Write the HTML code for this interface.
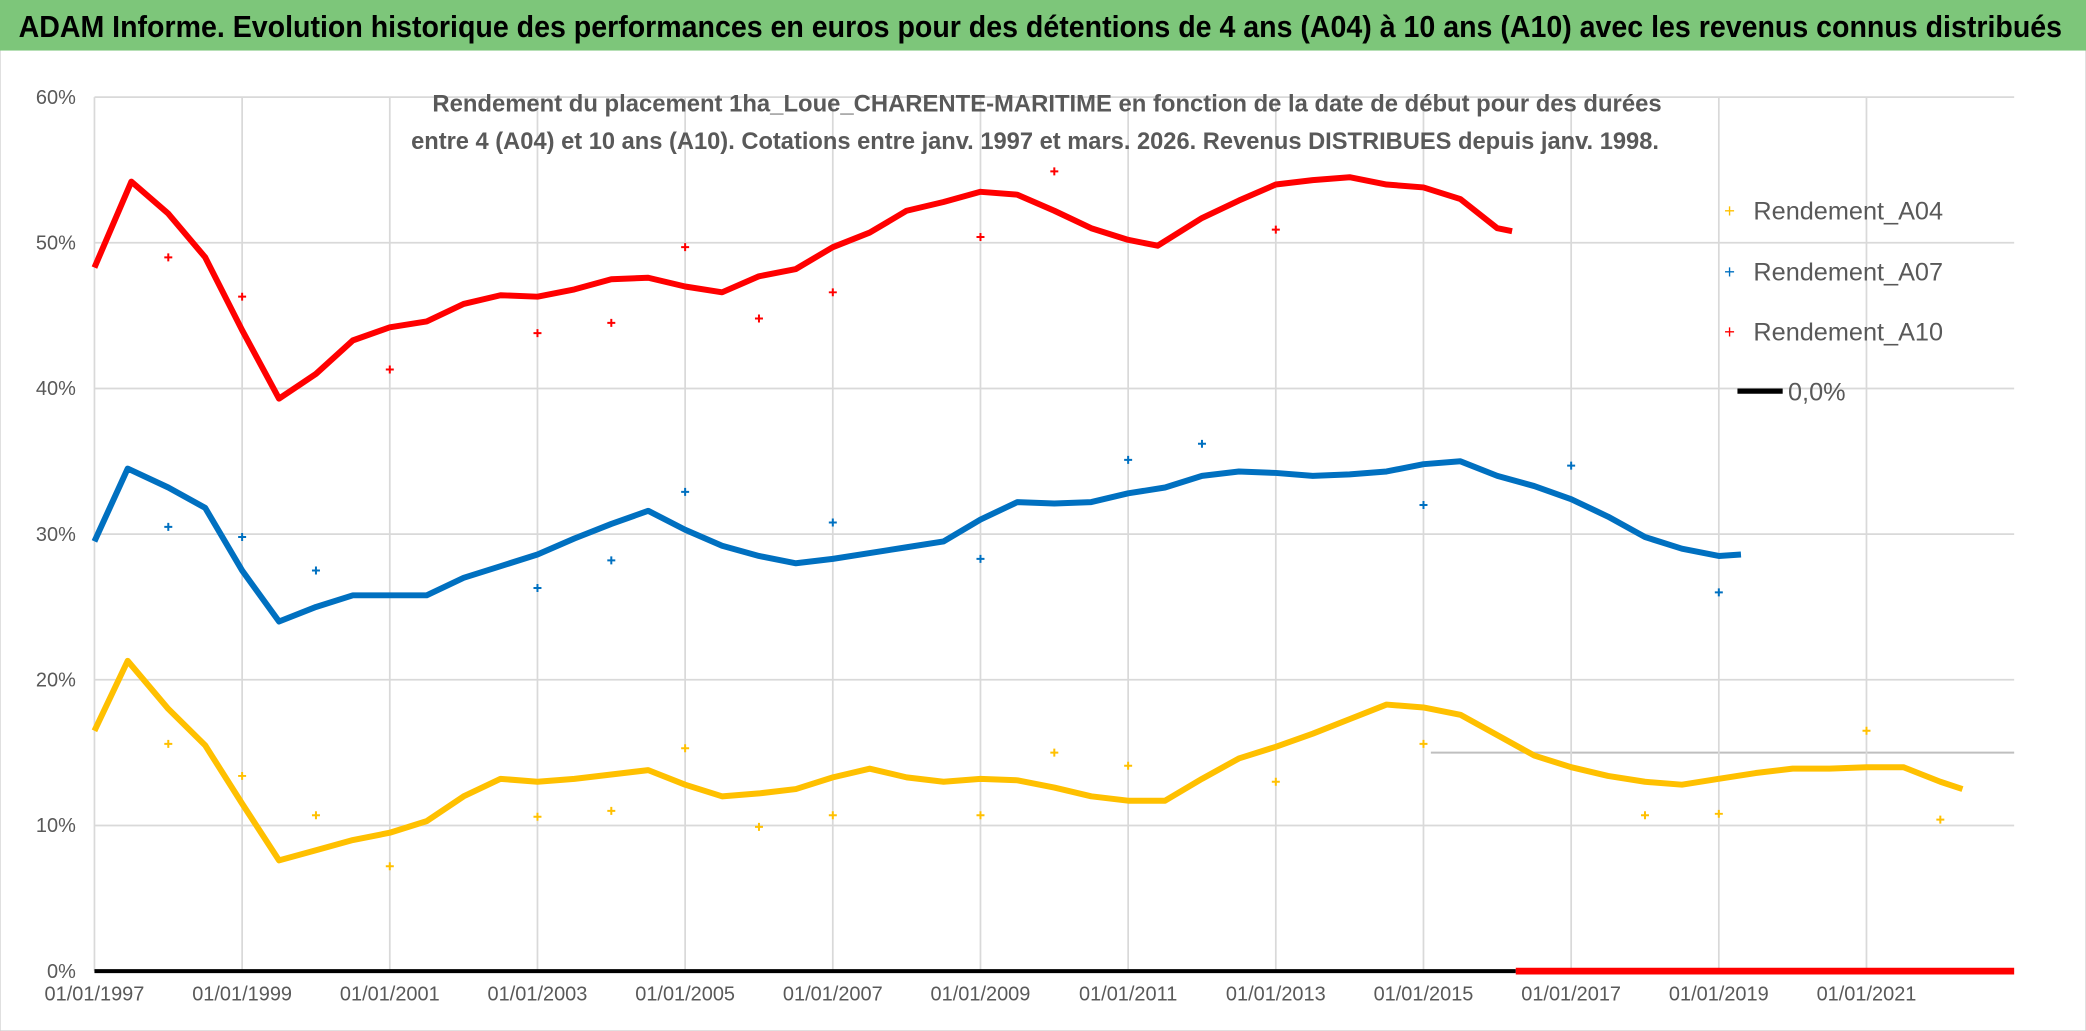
<!DOCTYPE html>
<html><head><meta charset="utf-8"><style>
html,body{margin:0;padding:0;background:#fff;}
svg{display:block;}
text{font-family:"Liberation Sans",sans-serif;}
</style></head><body>
<svg id="chart" width="2086" height="1031" viewBox="0 0 1568 775" preserveAspectRatio="none" xmlns="http://www.w3.org/2000/svg">
<rect x="0" y="0" width="1568" height="775" fill="#fff" stroke="#d0d0d0"/>
<rect x="0" y="0" width="1568" height="38" fill="#7dc67a"/>
<text x="14" y="28" font-size="23" font-weight="bold" fill="#000" textLength="1536" lengthAdjust="spacingAndGlyphs">ADAM Informe. Evolution historique des performances en euros pour des détentions de 4 ans (A04) à 10 ans (A10) avec les revenus connus distribués</text>
<g id="grid"></g>
<g id="axes"></g>
<text x="787" y="84" font-size="18" font-weight="bold" fill="#595959" text-anchor="middle" textLength="924" lengthAdjust="spacingAndGlyphs">Rendement du placement 1ha_Loue_CHARENTE-MARITIME en fonction de la date de début pour des durées</text>
<text x="778" y="112" font-size="18" font-weight="bold" fill="#595959" text-anchor="middle" textLength="938" lengthAdjust="spacingAndGlyphs">entre 4 (A04) et 10 ans (A10). Cotations entre janv. 1997 et mars. 2026. Revenus DISTRIBUES depuis janv. 1998.</text>
<g id="series"></g>
<g id="legend">
<text x="1296" y="163" font-size="14" fill="#ffc000">+</text>
<text x="1318" y="165" font-size="19" fill="#595959">Rendement_A04</text>
<text x="1296" y="209" font-size="14" fill="#0070c0">+</text>
<text x="1318" y="211" font-size="19" fill="#595959">Rendement_A07</text>
<text x="1296" y="254" font-size="14" fill="#ff0000">+</text>
<text x="1318" y="256" font-size="19" fill="#595959">Rendement_A10</text>
<line x1="1306" y1="294" x2="1340" y2="294" stroke="#000" stroke-width="4"/>
<text x="1344" y="301" font-size="19" fill="#595959">0,0%</text>
</g>
</svg>
<script>
const yTicks = [0,10,20,30,40,50,60];
const xTickYears = [1997,1999,2001,2003,2005,2007,2009,2011,2013,2015,2017,2019,2021];
const a10X = [1997,1997.5,1998,1998.5,1999,1999.5,2000,2000.5,2001,2001.5,2002,2002.5,2003,2003.5,2004,2004.5,2005,2005.5,2006,2006.5,2007,2007.5,2008,2008.5,2009,2009.5,2010,2010.5,2011,2011.4,2012,2012.5,2013,2013.5,2014,2014.5,2015,2015.5,2016,2016.2];
const a10Y = [48.3,54.2,52,49,44,39.3,41,43.3,44.2,44.6,45.8,46.4,46.3,46.8,47.5,47.6,47,46.6,47.7,48.2,49.7,50.7,52.2,52.8,53.5,53.3,52.2,51,50.2,49.8,51.7,52.9,54,54.3,54.5,54,53.8,53,51,50.8];
const a10OutX = [1998,1999,2001,2003,2004,2005,2006,2007,2009,2010,2013];
const a10OutY = [49,46.3,41.3,43.8,44.5,49.7,44.8,46.6,50.4,54.9,50.9];
const a07X = [1997,1997.45,1998,1998.5,1999,1999.5,2000,2000.5,2001,2001.5,2002,2002.5,2003,2003.5,2004,2004.5,2005,2005.5,2006,2006.5,2007,2007.5,2008,2008.5,2009,2009.5,2010,2010.5,2011,2011.5,2012,2012.5,2013,2013.5,2014,2014.5,2015,2015.5,2016,2016.5,2017,2017.5,2018,2018.5,2019,2019.3];
const a07Y = [29.5,34.5,33.2,31.8,27.5,24,25,25.8,25.8,25.8,27,27.8,28.6,29.7,30.7,31.6,30.3,29.2,28.5,28,28.3,28.7,29.1,29.5,31,32.2,32.1,32.2,32.8,33.2,34,34.3,34.2,34,34.1,34.3,34.8,35,34,33.3,32.4,31.2,29.8,29,28.5,28.6];
const a07OutX = [1998,1999,2000,2003,2004,2005,2007,2009,2011,2012,2015,2017,2019];
const a07OutY = [30.5,29.8,27.5,26.3,28.2,32.9,30.8,28.3,35.1,36.2,32,34.7,26];
const a04X = [1997,1997.45,1998,1998.5,1999,1999.5,2000,2000.5,2001,2001.5,2002,2002.5,2003,2003.5,2004,2004.5,2005,2005.5,2006,2006.5,2007,2007.5,2008,2008.5,2009,2009.5,2010,2010.5,2011,2011.5,2012,2012.5,2013,2013.5,2014,2014.5,2015,2015.5,2016,2016.5,2017,2017.5,2018,2018.5,2019,2019.5,2020,2020.5,2021,2021.5,2022,2022.3];
const a04Y = [16.5,21.3,18,15.5,11.5,7.6,8.3,9,9.5,10.3,12,13.2,13,13.2,13.5,13.8,12.8,12,12.2,12.5,13.3,13.9,13.3,13,13.2,13.1,12.6,12,11.7,11.7,13.2,14.6,15.4,16.3,17.3,18.3,18.1,17.6,16.2,14.8,14,13.4,13,12.8,13.2,13.6,13.9,13.9,14,14,13,12.5];
const a04OutX = [1998,1999,2000,2001,2003,2004,2005,2006,2007,2009,2010,2011,2013,2015,2018,2019,2021,2022];
const a04OutY = [15.6,13.4,10.7,7.2,10.6,11,15.3,9.9,10.7,10.7,15,14.1,13,15.6,10.7,10.8,16.5,10.4];
const zeroBlack = [1997,2016.25];
const zeroRed = [2016.25,2023.0];

const NS='http://www.w3.org/2000/svg';
const X0=71, PX_PER_YEAR=55.5, Y0=730, PX_PER_PCT=10.95;
function xs(yr){return X0+(yr-1997)*PX_PER_YEAR;}
function ys(v){return Y0-v*PX_PER_PCT;}
function mk(tag,attrs,parent){const e=document.createElementNS(NS,tag);for(const k in attrs)e.setAttribute(k,attrs[k]);parent.appendChild(e);return e;}
const grid=document.getElementById('grid'), axes=document.getElementById('axes'), series=document.getElementById('series');
const xEnd=xs(2023.0);
yTicks.forEach(v=>{
  const l=mk('line',{x1:X0,x2:xEnd,y1:ys(v),y2:ys(v),stroke:'#d9d9d9','stroke-width':1.3},grid);
  
  
  const t=mk('text',{x:X0-14,y:ys(v)+5,'font-size':15,fill:'#595959','text-anchor':'end'},axes);
  t.textContent=v+'%';
  
  
});
const l15=mk('line',{x1:xs(2015.1),x2:xEnd,y1:ys(15),y2:ys(15),stroke:'#bfbfbf','stroke-width':1.5},grid);


xTickYears.forEach(yr=>{
  const l=mk('line',{x1:xs(yr),x2:xs(yr),y1:ys(60),y2:Y0,stroke:'#d9d9d9','stroke-width':1.3},grid);
  
  
  const t=mk('text',{x:xs(yr),y:Y0+22,'font-size':15,fill:'#595959','text-anchor':'middle'},axes);
  t.textContent='01/01/'+yr;
  
  
});
function drawSeries(xa,ya,ox,oy,color,name){
  const pts=xa.map((x,i)=>xs(x)+','+ys(ya[i])).join(' ');
  const p=mk('polyline',{points:pts,fill:'none',stroke:color,'stroke-width':4.5,'stroke-linejoin':'round'},series);
  
  
  ox.forEach((x,i)=>{
    const cx=xs(x), cy=ys(oy[i]);
    const m=mk('path',{d:`M${cx-3},${cy}H${cx+3}M${cx},${cy-3}V${cy+3}`,stroke:color,'stroke-width':1.5},series);
    
    
  });
}
drawSeries(a04X,a04Y,a04OutX,a04OutY,'#ffc000','a04');
drawSeries(a07X,a07Y,a07OutX,a07OutY,'#0070c0','a07');
drawSeries(a10X,a10Y,a10OutX,a10OutY,'#ff0000','a10');
const zb=mk('line',{x1:xs(zeroBlack[0]),x2:xs(zeroBlack[1]),y1:ys(0),y2:ys(0),stroke:'#000','stroke-width':3},series);


const zr=mk('line',{x1:xs(zeroRed[0]),x2:xs(zeroRed[1]),y1:ys(0),y2:ys(0),stroke:'#ff0000','stroke-width':5},series);


</script>
</body></html>
